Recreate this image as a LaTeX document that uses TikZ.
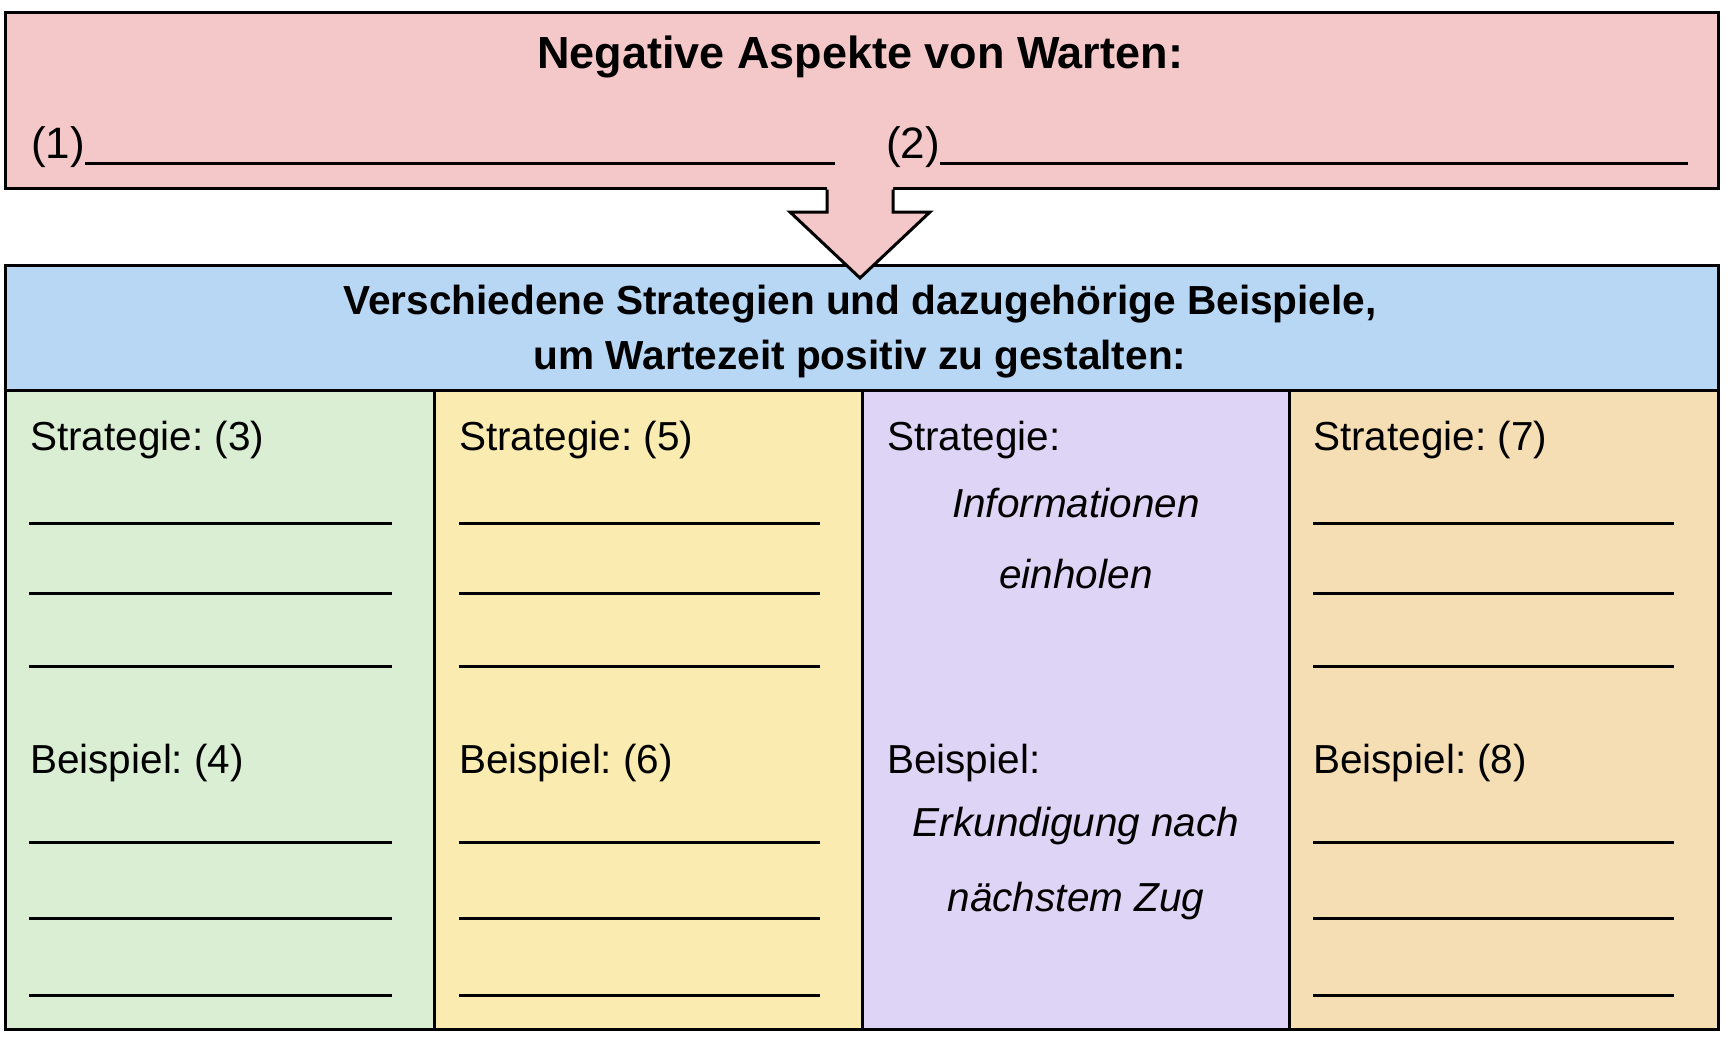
\documentclass[tikz,border=0pt]{standalone}
\usepackage{fontspec}
\setmainfont{Liberation Sans}
\frenchspacing
\definecolor{pinkc}{RGB}{244,199,201}
\definecolor{bluec}{RGB}{183,215,245}
\definecolor{greenc}{RGB}{217,238,211}
\definecolor{yellowc}{RGB}{250,236,176}
\definecolor{lavc}{RGB}{222,212,245}
\definecolor{orangec}{RGB}{246,222,180}
\begin{document}
\frenchspacing
\begin{tikzpicture}[x=1pt,y=-1pt,
  frame/.style={draw=black, line width=3pt},
  blank/.style={draw=black, line width=3pt},
  bodytext/.style={font=\fontsize{40.5}{48}\selectfont, inner sep=0pt},
  numtext/.style={font=\fontsize{44}{52}\selectfont, inner sep=0pt, anchor=base west},
  ittext/.style={font=\fontsize{40.5}{48}\selectfont\itshape, inner sep=0pt, anchor=base},
  titletext/.style={font=\fontsize{45}{54}\selectfont\bfseries, inner sep=0pt, anchor=base},
  headtext/.style={font=\fontsize{40.6}{50}\selectfont\bfseries, inner sep=0pt, anchor=base}]
\useasboundingbox (0,0) rectangle (1728,1036);
\fill[white] (0,0) rectangle (1728,1036);

% top box
\draw[frame, fill=pinkc] (5,12) rectangle (1718,188);
\node[titletext] (title) at (860,68) {Negative Aspekte von Warten:};
\node[numtext] (n1) at (31,158) {(1)};
\node[numtext] (n2) at (886,158) {(2)};
\draw[blank] (85,163) -- (835,163);
\draw[blank] (940,163) -- (1688,163);

% header box
\draw[frame, fill=bluec] (5,265) rectangle (1718,390);
\node[headtext] (h1) at (860,314) {Verschiedene Strategien und dazugehörige Beispiele,};
\node[headtext] (h2) at (860,369) {um Wartezeit positiv zu gestalten:};

% columns
\draw[frame, fill=greenc] (5,390) rectangle (434,1029);
\draw[frame, fill=yellowc] (434,390) rectangle (862,1029);
\draw[frame, fill=lavc] (862,390) rectangle (1289,1029);
\draw[frame, fill=orangec] (1289,390) rectangle (1718,1029);

% column 1
\node[bodytext, anchor=base west] (s3) at (30,450) {Strategie: (3)};
\node[bodytext, anchor=base west] (b4) at (30,773) {Beispiel: (4)};
% column 2
\node[bodytext, anchor=base west] (s5) at (459,450) {Strategie: (5)};
\node[bodytext, anchor=base west] (b6) at (459,773) {Beispiel: (6)};
% column 3
\node[bodytext, anchor=base west] (s0) at (887,450) {Strategie:};
\node[ittext] (i1) at (1076,517) {Informationen};
\node[ittext] (i2) at (1076,588) {einholen};
\node[bodytext, anchor=base west] (b0) at (887,773) {Beispiel:};
\node[ittext] (e1) at (1076,836) {Erkundigung nach};
\node[ittext] (e2) at (1076,911) {nächstem Zug};
% column 4
\node[bodytext, anchor=base west] (s7) at (1313,450) {Strategie: (7)};
\node[bodytext, anchor=base west] (b8) at (1313,773) {Beispiel: (8)};

% blank lines
\foreach \xa/\xb in {29/392, 459/820, 1313/1674}{
  \foreach \yy in {523,593,666,842,918,995}{
    \draw[blank] (\xa,\yy) -- (\xb,\yy);
  }
}

% arrow
\fill[pinkc] (827,186) -- (827,212) -- (790,212) -- (860,278) -- (930,212) -- (893,212) -- (893,186) -- cycle;
\draw[frame, line join=miter] (827,189.5) -- (827,212) -- (790,212) -- (860,278) -- (930,212) -- (893,212) -- (893,189.5);
\end{tikzpicture}
\end{document}
